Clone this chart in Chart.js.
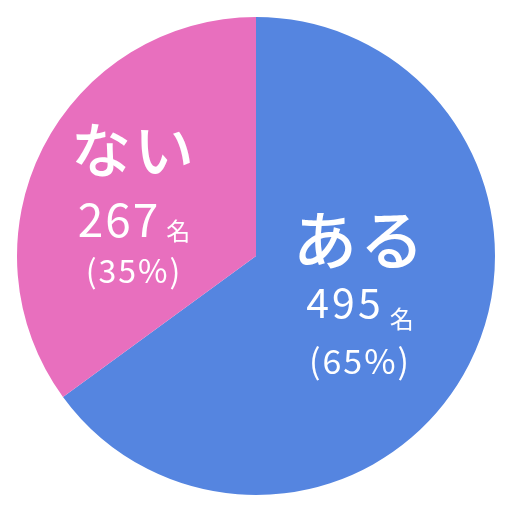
<!DOCTYPE html>
<html>
<head>
<meta charset="utf-8">
<script src="https://cdn.jsdelivr.net/npm/chart.js@4"></script>
<style>
  html, body { margin: 0; padding: 0; background: #fff; }
  #wrap { width: 512px; height: 512px; }
</style>
</head>
<body>
<div id="wrap"><canvas id="pie"></canvas></div>
<script>
// data
const categories = ['ある', 'ない'];
const counts = [495, 267];
const percents = [65, 35];
const colors = ['#5585e0', '#e86fbe'];

// label block layout, offsets relative to the pie centre
const labelSpots = [
    { dx: 104, nameY: -16, nameSize: 64, numBase: 62, numSize: 41, numSpace: 3, unitGap: 6, unitBase: 72, pctY: 105, pctSize: 34 },
    { dx: -122, nameY: -106, nameSize: 60, numBase: -19, numSize: 46, numSpace: 2, unitGap: 6, unitBase: -16, pctY: 15, pctSize: 32 }
];

const FONT = '"Noto Sans CJK JP", "Noto Sans", sans-serif';

// Draw the white labels inside each slice
const sliceLabels = {
    id: 'sliceLabels',
    afterDatasetsDraw(chart) {
        const ctx = chart.ctx;
        const arcs = chart.getDatasetMeta(0).data;
        ctx.save();
        ctx.fillStyle = '#ffffff';
        arcs.forEach((arc, i) => {
            const s = labelSpots[i];
            const x = arc.x + s.dx;

            ctx.textAlign = 'center';
            ctx.textBaseline = 'middle';
            ctx.letterSpacing = '3px';
            ctx.font = `500 ${s.nameSize}px ${FONT}`;
            ctx.fillText(categories[i], x, arc.y + s.nameY);

            // count + 名 on one line
            const num = String(counts[i]);
            ctx.letterSpacing = s.numSpace + 'px';
            ctx.font = `400 ${s.numSize}px ${FONT}`;
            const numW = ctx.measureText(num).width;
            ctx.letterSpacing = '0px';
            ctx.font = `400 24px ${FONT}`;
            const unitW = ctx.measureText('名').width;
            const startX = x - (numW + s.unitGap + unitW) / 2;
            ctx.textAlign = 'left';
            ctx.textBaseline = 'alphabetic';
            ctx.letterSpacing = s.numSpace + 'px';
            ctx.font = `400 ${s.numSize}px ${FONT}`;
            ctx.fillText(num, startX, arc.y + s.numBase);
            ctx.letterSpacing = '0px';
            ctx.font = `400 24px ${FONT}`;
            ctx.fillText('名', startX + numW + s.unitGap, arc.y + s.unitBase);

            ctx.textAlign = 'center';
            ctx.textBaseline = 'middle';
            ctx.letterSpacing = '2px';
            ctx.font = `400 ${s.pctSize}px ${FONT}`;
            ctx.fillText(`(${percents[i]}%)`, x, arc.y + s.pctY);
        });
        ctx.restore();
    }
};

new Chart(document.getElementById('pie'), {
    type: 'pie',
    data: {
        labels: categories,
        datasets: [{
            data: counts,
            backgroundColor: colors,
            borderWidth: 0
        }]
    },
    options: {
        responsive: true,
        maintainAspectRatio: false,
        animation: false,
        layout: { padding: 17 },
        plugins: {
            legend: { display: false },
            tooltip: { enabled: false }
        }
    },
    plugins: [sliceLabels]
});
</script>
</body>
</html>
